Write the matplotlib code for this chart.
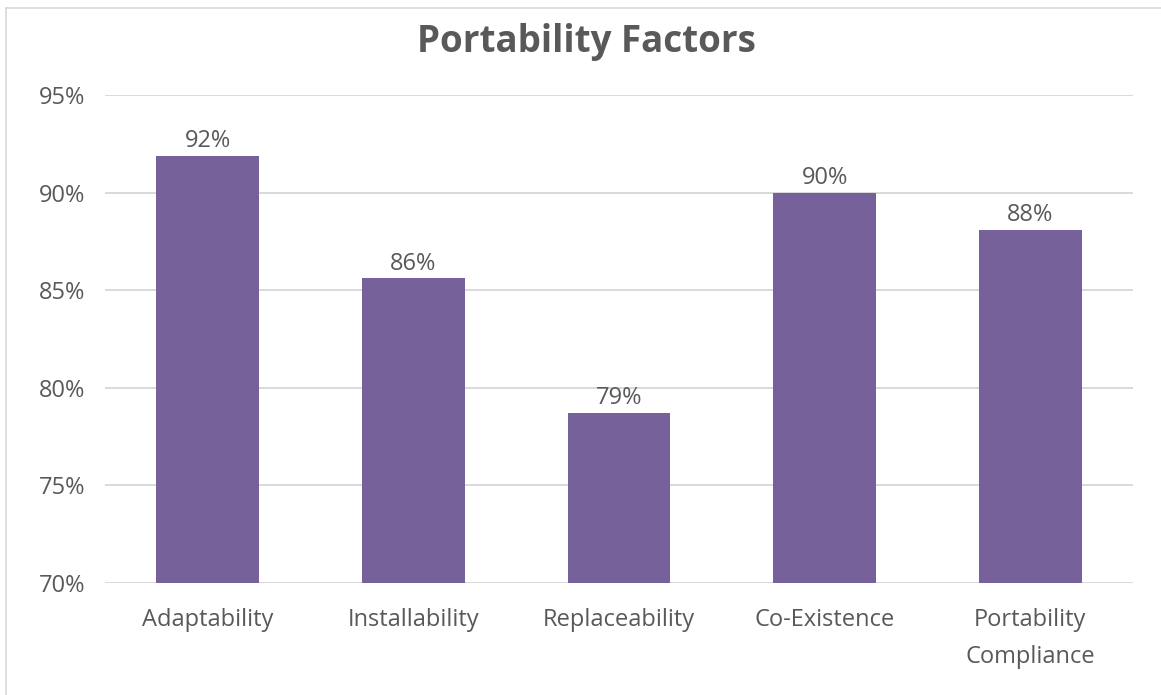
import matplotlib
matplotlib.use("Agg")
import matplotlib.pyplot as plt
from matplotlib.ticker import FuncFormatter
from matplotlib.lines import Line2D

categories = ["Adaptability", "Installability", "Replaceability", "Co-Existence",
              "Portability\nCompliance"]
scores = [0.919, 0.856, 0.787, 0.900, 0.881]
y_ticks = [0.70, 0.75, 0.80, 0.85, 0.90, 0.95]

BAR = "#77619A"
TEXT = "#595959"
GRID = "#D9D9D9"

plt.rcParams["font.family"] = ["Open Sans", "DejaVu Sans"]

fig = plt.figure(figsize=(11.61, 6.95), dpi=100)
ax = fig.add_axes([0.0904, 0.1612, 0.8855, 0.7021])

x = range(len(categories))
bars = ax.bar(x, scores, width=0.5, color=BAR, zorder=3)

ax.set_xlim(-0.5, len(categories) - 0.5)
ax.set_ylim(y_ticks[0], y_ticks[-1])
ax.set_yticks(y_ticks)
ax.yaxis.set_major_formatter(FuncFormatter(lambda v, _: f"{v*100:.0f}%"))
ax.set_xticks(list(x))
ax.set_xticklabels(categories, fontsize=17, color=TEXT, linespacing=1.75)
ax.tick_params(axis="x", length=0, pad=18)
ax.tick_params(axis="y", length=0, pad=14, labelsize=17, labelcolor=TEXT)

ax.grid(axis="y", color=GRID, linewidth=1.4, zorder=0)
for s in ax.spines.values():
    s.set_visible(False)
ax.set_axisbelow(True)

for rect, v in zip(bars, scores):
    ax.annotate(f"{v*100:.0f}%", (rect.get_x() + rect.get_width() / 2, v),
                xytext=(0, 2), textcoords="offset points",
                ha="center", va="bottom", fontsize=17, color=TEXT)

fig.text(0.505, 0.939, "Portability Factors", ha="center", va="center",
         fontsize=26.5, fontweight="bold", color=TEXT)

# chart frame edges along the top and left
fig.add_artist(Line2D([6 / 1161, 1], [1 - 8 / 695, 1 - 8 / 695],
                      transform=fig.transFigure, color=GRID, linewidth=1.2))
fig.add_artist(Line2D([6 / 1161, 6 / 1161], [0, 1 - 8 / 695],
                      transform=fig.transFigure, color=GRID, linewidth=1.2))

fig.savefig("out.png", dpi=100)
